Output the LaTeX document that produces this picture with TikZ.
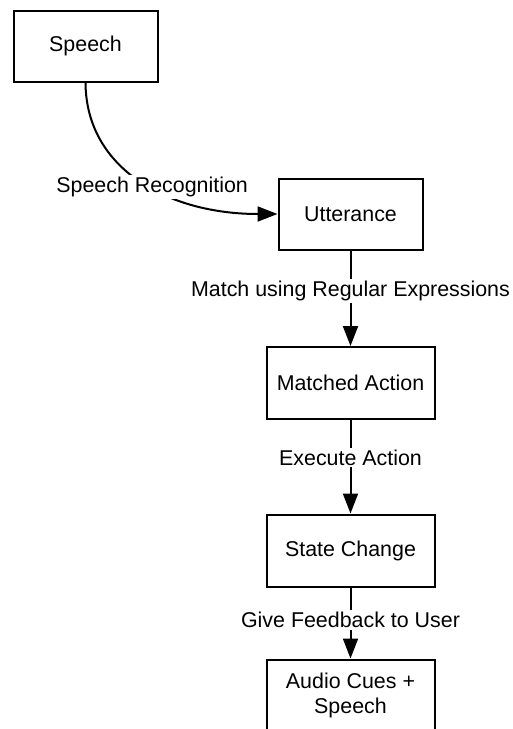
\documentclass[tikz,border=0pt]{standalone}
\usepackage{fontspec}
\setmainfont{Liberation Sans}
\usetikzlibrary{arrows.meta}
\begin{document}
\begin{tikzpicture}[x=1pt,y=-1pt,
  txt/.style={font=\fontsize{21.4}{25}\selectfont},
  box/.style={txt,draw=black,line width=2pt,minimum width=144pt,minimum height=71pt,inner sep=0pt,align=center},
  widebox/.style={box,minimum width=168pt,minimum height=72pt},
  flow/.style={line width=2pt,-{Triangle[length=20pt,width=15pt]}},
  lbl/.style={txt,fill=white,inner sep=2pt}]
\useasboundingbox (0,0) rectangle (513,729);

% stages of the voice pipeline
\node[box]     (speech) at (85.5,46)    {Speech};
\node[box]     (utt)    at (350.5,214)  {Utterance};
\node[widebox] (match)  at (350.5,383)  {Matched Action};
\node[widebox] (state)  at (350.5,550.5){State Change};
\node[widebox] (audio)  at (350.5,695.5){Audio Cues +\\Speech};

% transitions
\draw[flow] (speech.south) .. controls (86,170) and (170,214) ..
  node[lbl,pos=0.55] (recog) {Speech Recognition} (utt.west);
\draw[flow] (utt) -- node[lbl,pos=0.42] (regex) {Match using Regular Expressions} (match);
\draw[flow] (match) -- node[lbl,pos=0.4] (exec) {Execute Action} (state);
\draw[flow] (state) -- node[lbl,pos=0.46] (feedback) {Give Feedback to User} (audio);
\end{tikzpicture}
\end{document}
